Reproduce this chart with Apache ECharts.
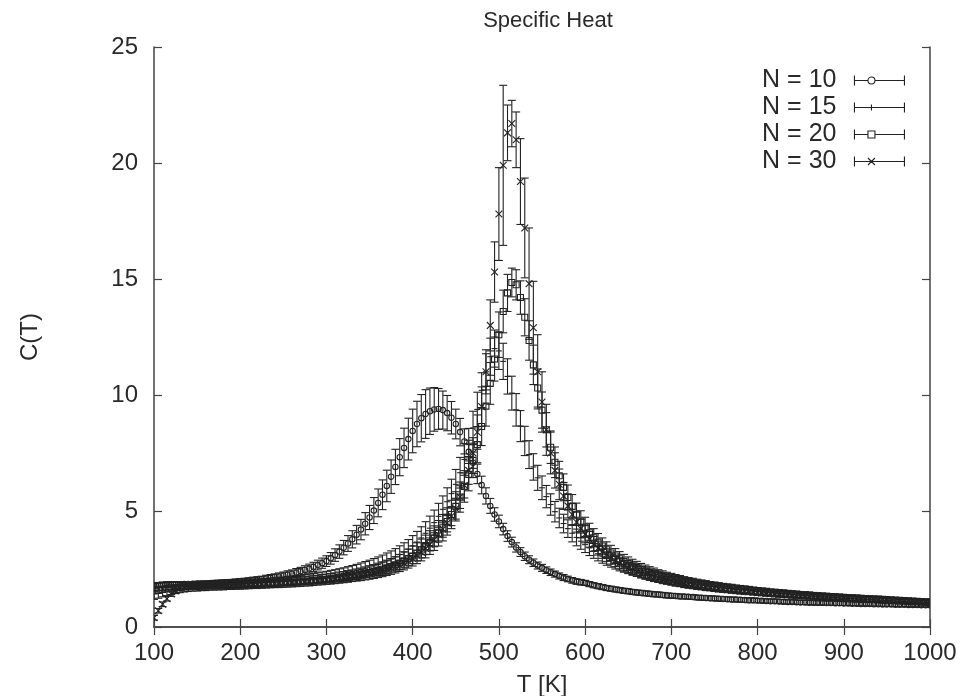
<!DOCTYPE html>
<html><head><meta charset="utf-8">
<script src="https://cdn.jsdelivr.net/npm/echarts@6/dist/echarts.min.js"></script>
<style>html,body{margin:0;padding:0;background:#fff}#c{width:973px;height:696px}</style>
</head><body><div id="c"></div>
<script>
// Temperature grid (K)
const temperatures = [
100,105,110,115,120,125,130,135,140,145,
150,155,160,165,170,175,180,185,190,195,
200,205,210,215,220,225,230,235,240,245,
250,255,260,265,270,275,280,285,290,295,
300,305,310,315,320,325,330,335,340,345,
350,355,360,365,370,375,380,385,390,395,
400,405,410,415,420,425,430,435,440,445,
450,455,460,465,470,475,480,485,490,495,
500,505,510,515,520,525,530,535,540,545,
550,555,560,565,570,575,580,585,590,595,
600,605,610,615,620,625,630,635,640,645,
650,655,660,665,670,675,680,685,690,695,
700,705,710,715,720,725,730,735,740,745,
750,755,760,765,770,775,780,785,790,795,
800,805,810,815,820,825,830,835,840,845,
850,855,860,865,870,875,880,885,890,895,
900,905,910,915,920,925,930,935,940,945,
950,955,960,965,970,975,980,985,990,995,
1000];

const c_N10 = [
1.78,1.80,1.80,1.82,1.82,1.83,1.84,1.85,1.85,1.86,
1.87,1.88,1.88,1.89,1.90,1.91,1.92,1.93,1.94,1.95,
1.97,1.98,2.00,2.02,2.04,2.06,2.09,2.12,2.15,2.18,
2.22,2.26,2.30,2.35,2.40,2.46,2.52,2.59,2.67,2.75,
2.84,2.96,3.10,3.25,3.42,3.60,3.78,3.98,4.20,4.45,
4.72,5.02,5.35,5.70,6.08,6.48,6.90,7.32,7.72,8.10,
8.45,8.75,9.00,9.18,9.30,9.38,9.40,9.35,9.22,9.02,
8.75,8.40,8.00,7.55,7.08,6.60,6.12,5.65,5.22,4.85,
4.55,4.22,3.92,3.66,3.43,3.23,3.05,2.90,2.77,2.65,
2.55,2.45,2.36,2.28,2.20,2.13,2.07,2.01,1.96,1.93,
1.90,1.85,1.80,1.76,1.72,1.68,1.65,1.62,1.59,1.56,
1.54,1.51,1.49,1.47,1.45,1.43,1.41,1.40,1.38,1.36,
1.35,1.34,1.32,1.31,1.30,1.29,1.27,1.26,1.25,1.24,
1.23,1.22,1.21,1.20,1.19,1.18,1.17,1.16,1.15,1.15,
1.14,1.13,1.12,1.11,1.11,1.10,1.09,1.08,1.08,1.07,
1.06,1.06,1.05,1.05,1.04,1.04,1.03,1.03,1.02,1.02,
1.01,1.01,1.00,1.00,0.99,0.99,0.99,0.98,0.98,0.97,
0.97,0.97,0.96,0.96,0.96,0.95,0.95,0.95,0.94,0.94,
0.94];
const err_N10 = [
0.10,0.10,0.10,0.10,0.10,0.10,0.10,0.10,0.10,0.10,
0.10,0.10,0.10,0.10,0.11,0.11,0.11,0.11,0.11,0.12,
0.12,0.12,0.12,0.13,0.13,0.13,0.14,0.14,0.14,0.15,
0.15,0.16,0.16,0.17,0.17,0.18,0.19,0.20,0.21,0.22,
0.23,0.25,0.27,0.29,0.31,0.34,0.37,0.40,0.44,0.48,
0.52,0.56,0.60,0.64,0.68,0.72,0.76,0.80,0.85,0.90,
0.94,0.98,1.02,1.05,1.00,0.94,0.88,0.82,0.76,0.70,
0.64,0.59,0.54,0.50,0.46,0.42,0.38,0.35,0.32,0.29,
0.27,0.25,0.23,0.21,0.20,0.19,0.18,0.17,0.16,0.15,
0.15,0.14,0.14,0.13,0.13,0.13,0.12,0.12,0.12,0.12,
0.11,0.11,0.11,0.11,0.11,0.11,0.11,0.11,0.11,0.11,
0.11,0.11,0.11,0.11,0.11,0.11,0.11,0.11,0.11,0.11,
0.10,0.10,0.10,0.10,0.10,0.10,0.10,0.10,0.10,0.10,
0.10,0.10,0.10,0.10,0.10,0.10,0.10,0.10,0.10,0.10,
0.09,0.09,0.09,0.09,0.09,0.09,0.09,0.09,0.09,0.09,
0.09,0.09,0.09,0.09,0.09,0.09,0.09,0.09,0.09,0.09,
0.08,0.08,0.08,0.08,0.08,0.08,0.08,0.08,0.08,0.08,
0.08,0.08,0.08,0.08,0.08,0.08,0.08,0.08,0.08,0.08,
0.08];

const c_N15 = [
1.72,1.74,1.75,1.76,1.77,1.78,1.78,1.79,1.80,1.80,
1.81,1.81,1.82,1.82,1.83,1.83,1.84,1.84,1.85,1.85,
1.86,1.87,1.88,1.89,1.90,1.91,1.92,1.93,1.94,1.96,
1.97,1.99,2.00,2.02,2.04,2.06,2.08,2.10,2.13,2.15,
2.18,2.21,2.24,2.27,2.31,2.35,2.39,2.43,2.48,2.53,
2.58,2.64,2.70,2.77,2.85,2.93,3.02,3.12,3.23,3.35,
3.50,3.66,3.84,4.04,4.26,4.50,4.77,5.07,5.40,5.75,
6.15,6.65,7.22,7.86,8.58,9.38,10.20,11.00,11.65,12.00,
11.90,11.45,10.80,10.08,9.36,8.66,8.02,7.43,6.90,6.43,
6.00,5.62,5.28,4.97,4.70,4.46,4.24,4.04,3.86,3.70,
3.55,3.41,3.28,3.16,3.05,2.95,2.86,2.77,2.69,2.62,
2.55,2.48,2.42,2.36,2.31,2.26,2.21,2.16,2.12,2.08,
2.04,2.00,1.97,1.93,1.90,1.87,1.84,1.81,1.79,1.76,
1.74,1.72,1.69,1.67,1.65,1.63,1.61,1.60,1.58,1.56,
1.54,1.52,1.50,1.48,1.47,1.45,1.43,1.42,1.40,1.39,
1.37,1.36,1.34,1.33,1.32,1.30,1.29,1.28,1.27,1.25,
1.24,1.23,1.22,1.21,1.20,1.19,1.18,1.17,1.16,1.15,
1.14,1.13,1.12,1.11,1.10,1.09,1.08,1.08,1.07,1.06,
1.05];
const err_N15 = [
0.18,0.17,0.17,0.16,0.16,0.16,0.15,0.15,0.15,0.15,
0.15,0.15,0.15,0.15,0.15,0.15,0.15,0.15,0.16,0.16,
0.16,0.16,0.16,0.17,0.17,0.17,0.17,0.18,0.18,0.18,
0.18,0.19,0.19,0.19,0.20,0.20,0.20,0.21,0.21,0.22,
0.22,0.23,0.23,0.24,0.24,0.25,0.26,0.27,0.28,0.29,
0.30,0.31,0.32,0.33,0.34,0.35,0.36,0.38,0.40,0.42,
0.44,0.46,0.48,0.50,0.52,0.54,0.56,0.58,0.60,0.62,
0.64,0.66,0.68,0.70,0.72,0.74,0.76,0.78,0.80,0.80,
0.80,0.78,0.76,0.73,0.70,0.67,0.63,0.60,0.57,0.54,
0.51,0.48,0.46,0.44,0.42,0.40,0.38,0.37,0.36,0.35,
0.34,0.33,0.32,0.31,0.30,0.29,0.28,0.27,0.27,0.26,
0.25,0.25,0.24,0.24,0.23,0.23,0.22,0.22,0.21,0.21,
0.20,0.20,0.20,0.19,0.19,0.19,0.18,0.18,0.18,0.17,
0.17,0.17,0.17,0.16,0.16,0.16,0.16,0.15,0.15,0.15,
0.15,0.15,0.14,0.14,0.14,0.14,0.14,0.13,0.13,0.13,
0.13,0.13,0.13,0.12,0.12,0.12,0.12,0.12,0.12,0.11,
0.11,0.11,0.11,0.11,0.11,0.11,0.11,0.11,0.11,0.11,
0.10,0.10,0.10,0.10,0.10,0.10,0.10,0.10,0.10,0.10,
0.10];

const c_N20 = [
1.55,1.58,1.62,1.65,1.68,1.70,1.72,1.73,1.74,1.75,
1.75,1.76,1.76,1.77,1.77,1.78,1.78,1.79,1.79,1.80,
1.80,1.81,1.82,1.83,1.84,1.85,1.86,1.87,1.88,1.89,
1.90,1.91,1.92,1.94,1.95,1.97,1.98,2.00,2.02,2.04,
2.06,2.08,2.10,2.13,2.15,2.18,2.21,2.24,2.27,2.31,
2.35,2.39,2.44,2.49,2.55,2.61,2.68,2.76,2.85,2.95,
3.06,3.18,3.32,3.47,3.64,3.83,4.04,4.28,4.55,4.85,
5.20,5.60,6.06,6.58,7.18,7.86,8.64,9.52,10.50,11.55,
12.60,13.60,14.40,14.85,14.75,14.20,13.35,12.35,11.30,10.30,
9.35,8.50,7.75,7.10,6.52,6.02,5.58,5.20,4.86,4.56,
4.30,4.06,3.85,3.66,3.49,3.33,3.19,3.06,2.94,2.83,
2.73,2.64,2.56,2.48,2.41,2.35,2.29,2.23,2.18,2.13,
2.08,2.04,2.00,1.96,1.92,1.89,1.86,1.83,1.80,1.77,
1.75,1.72,1.70,1.68,1.66,1.64,1.62,1.60,1.58,1.56,
1.54,1.52,1.51,1.49,1.48,1.46,1.45,1.43,1.42,1.41,
1.39,1.38,1.37,1.36,1.34,1.33,1.32,1.31,1.30,1.29,
1.28,1.27,1.26,1.25,1.24,1.23,1.22,1.21,1.20,1.19,
1.18,1.17,1.16,1.15,1.14,1.13,1.12,1.11,1.10,1.09,
1.08];
const err_N20 = [
0.36,0.34,0.32,0.30,0.28,0.26,0.24,0.22,0.21,0.20,
0.20,0.19,0.19,0.18,0.18,0.18,0.18,0.17,0.17,0.17,
0.17,0.17,0.17,0.17,0.18,0.18,0.18,0.18,0.18,0.19,
0.19,0.19,0.19,0.20,0.20,0.20,0.21,0.21,0.21,0.22,
0.22,0.23,0.23,0.24,0.24,0.25,0.25,0.26,0.27,0.28,
0.29,0.30,0.31,0.32,0.33,0.34,0.35,0.37,0.39,0.41,
0.43,0.45,0.47,0.49,0.51,0.53,0.55,0.57,0.59,0.61,
0.63,0.65,0.68,0.71,0.74,0.78,0.82,0.86,0.90,0.95,
0.98,0.92,0.80,0.62,0.65,0.72,0.80,0.85,0.85,0.82,
0.78,0.74,0.70,0.66,0.62,0.58,0.54,0.51,0.48,0.45,
0.43,0.41,0.39,0.37,0.35,0.34,0.33,0.32,0.31,0.30,
0.29,0.28,0.27,0.26,0.26,0.25,0.25,0.24,0.24,0.23,
0.23,0.22,0.22,0.21,0.21,0.21,0.20,0.20,0.20,0.19,
0.19,0.19,0.18,0.18,0.18,0.17,0.17,0.17,0.17,0.16,
0.16,0.16,0.16,0.15,0.15,0.15,0.15,0.15,0.14,0.14,
0.14,0.14,0.14,0.13,0.13,0.13,0.13,0.13,0.12,0.12,
0.12,0.12,0.12,0.12,0.12,0.12,0.12,0.12,0.12,0.12,
0.11,0.11,0.11,0.11,0.11,0.11,0.11,0.11,0.11,0.11,
0.11];

const c_N30 = [
0.40,0.70,0.98,1.22,1.42,1.56,1.66,1.73,1.77,1.79,
1.80,1.81,1.81,1.82,1.82,1.83,1.83,1.83,1.84,1.84,
1.84,1.85,1.85,1.86,1.86,1.87,1.87,1.88,1.88,1.89,
1.90,1.91,1.92,1.93,1.94,1.95,1.96,1.97,1.99,2.00,
2.02,2.04,2.06,2.08,2.10,2.13,2.16,2.19,2.22,2.26,
2.30,2.34,2.38,2.43,2.48,2.54,2.60,2.67,2.75,2.85,
2.95,3.08,3.22,3.38,3.56,3.76,3.98,4.22,4.48,4.78,
5.10,5.60,6.10,6.75,7.50,8.40,9.50,11.00,13.00,15.30,
17.80,19.90,21.30,21.70,21.00,19.20,17.20,14.80,12.90,11.00,
9.70,8.50,7.50,6.75,6.15,5.65,5.22,4.85,4.52,4.24,
4.00,3.78,3.58,3.40,3.24,3.10,2.97,2.85,2.74,2.64,
2.55,2.47,2.39,2.32,2.26,2.20,2.15,2.10,2.05,2.01,
1.97,1.93,1.90,1.86,1.83,1.80,1.77,1.75,1.72,1.70,
1.67,1.65,1.63,1.61,1.59,1.57,1.55,1.53,1.52,1.50,
1.48,1.47,1.45,1.44,1.42,1.41,1.40,1.38,1.37,1.36,
1.35,1.33,1.32,1.31,1.30,1.29,1.28,1.27,1.26,1.25,
1.24,1.23,1.22,1.21,1.20,1.19,1.18,1.17,1.16,1.15,
1.14,1.13,1.12,1.11,1.10,1.09,1.08,1.07,1.06,1.05,
1.04];
const err_N30 = [
0.10,0.10,0.10,0.10,0.10,0.10,0.10,0.10,0.10,0.10,
0.10,0.10,0.10,0.10,0.10,0.10,0.10,0.10,0.10,0.10,
0.10,0.10,0.10,0.10,0.10,0.10,0.10,0.10,0.10,0.10,
0.10,0.10,0.10,0.10,0.11,0.11,0.11,0.11,0.11,0.11,
0.12,0.12,0.12,0.12,0.13,0.13,0.13,0.14,0.14,0.14,
0.15,0.15,0.16,0.16,0.17,0.17,0.18,0.19,0.20,0.21,
0.22,0.23,0.24,0.26,0.28,0.30,0.32,0.35,0.38,0.41,
0.45,0.49,0.54,0.60,0.66,0.74,0.85,0.95,1.10,1.30,
2.00,3.45,1.20,1.00,1.20,1.85,2.15,2.40,2.00,1.60,
1.30,1.10,0.90,0.76,0.66,0.58,0.52,0.47,0.43,0.40,
0.37,0.34,0.32,0.30,0.28,0.27,0.26,0.25,0.24,0.23,
0.22,0.21,0.21,0.20,0.20,0.19,0.19,0.18,0.18,0.17,
0.17,0.17,0.16,0.16,0.16,0.15,0.15,0.15,0.15,0.14,
0.14,0.14,0.14,0.13,0.13,0.13,0.13,0.13,0.12,0.12,
0.12,0.12,0.12,0.12,0.12,0.12,0.12,0.12,0.12,0.12,
0.11,0.11,0.11,0.11,0.11,0.11,0.11,0.11,0.11,0.11,
0.11,0.11,0.11,0.11,0.11,0.11,0.11,0.11,0.11,0.11,
0.10,0.10,0.10,0.10,0.10,0.10,0.10,0.10,0.10,0.10,
0.10];

const seriesNames = ['N = 10', 'N = 15', 'N = 20', 'N = 30'];
const seriesMarkers = ['circle', 'plus', 'square', 'cross'];
const seriesValues = [c_N10, c_N15, c_N20, c_N30];
const seriesErrors = [err_N10, err_N15, err_N20, err_N30];
const xTickLabels = ['100','200','300','400','500','600','700','800','900','1000'];
const yTickLabels = ['0','5','10','15','20','25'];

const INK = '#222';
const FONT = '"Liberation Sans", Arial, Helvetica, sans-serif';

function makeRender(marker) {
  return function (params, api) {
    const T = api.value(0), c = api.value(1), e = api.value(2);
    const p = api.coord([T, c]);
    const hi = api.coord([T, c + e]);
    const lo = api.coord([T, c - e]);
    const cap = 4;
    const st = () => ({ stroke: INK, lineWidth: 1.1, fill: null });
    const ch = [
      { type: 'line', shape: { x1: p[0], y1: hi[1], x2: p[0], y2: lo[1] }, style: st() },
      { type: 'line', shape: { x1: p[0] - cap, y1: hi[1], x2: p[0] + cap, y2: hi[1] }, style: st() },
      { type: 'line', shape: { x1: p[0] - cap, y1: lo[1], x2: p[0] + cap, y2: lo[1] }, style: st() }
    ];
    const s = 3;
    if (marker === 'circle') {
      ch.push({ type: 'circle', shape: { cx: p[0], cy: p[1], r: 2.7 }, style: { stroke: INK, lineWidth: 1.1, fill: 'rgba(0,0,0,0)' } });
    } else if (marker === 'plus') {
      ch.push({ type: 'line', shape: { x1: p[0] - s, y1: p[1], x2: p[0] + s, y2: p[1] }, style: st() });
    } else if (marker === 'square') {
      ch.push({ type: 'rect', shape: { x: p[0] - s, y: p[1] - s, width: 2 * s, height: 2 * s }, style: { stroke: INK, lineWidth: 1.1, fill: 'rgba(0,0,0,0)' } });
    } else {
      ch.push({ type: 'line', shape: { x1: p[0] - 3.4, y1: p[1] - 3.4, x2: p[0] + 3.4, y2: p[1] + 3.4 }, style: st() });
      ch.push({ type: 'line', shape: { x1: p[0] - 3.4, y1: p[1] + 3.4, x2: p[0] + 3.4, y2: p[1] - 3.4 }, style: st() });
    }
    return { type: 'group', children: ch };
  };
}

const legendIcons = {
  circle: 'path://M0,0L0,10M0,5L13.5,5M20.5,5L50,5M50,0L50,10M20.5,5A3.5,3.5,0,1,1,13.5,5A3.5,3.5,0,1,1,20.5,5',
  plus: 'path://M0,0L0,10M0,5L50,5M50,0L50,10M17,2L17,8',
  square: 'path://M0,0L0,10M0,5L13.5,5M20.5,5L50,5M50,0L50,10M13.5,1.5L20.5,1.5L20.5,8.5L13.5,8.5Z',
  cross: 'path://M0,0L0,10M0,5L50,5M50,0L50,10M13.5,1.5L20.5,8.5M20.5,1.5L13.5,8.5'
};

const series = seriesNames.map((name, i) => ({
  name: name,
  type: 'custom',
  clip: true,
  renderItem: makeRender(seriesMarkers[i]),
  encode: { x: 0, y: 1 },
  itemStyle: { color: INK },
  data: temperatures.map((t, k) => [t, seriesValues[i][k], seriesErrors[i][k]]),
  animation: false
}));

const axisLine = { show: true, lineStyle: { color: '#444', width: 1.5 } };
const tick = { show: true, inside: true, length: 8, lineStyle: { color: '#444', width: 1.2 } };

const option = {
  backgroundColor: '#fff',
  animation: false,
  title: {
    text: 'Specific Heat', left: 543, top: 5, textAlign: 'center',
    textStyle: { fontFamily: FONT, fontSize: 22, fontWeight: 'normal', color: '#2a2a2a' }
  },
  grid: { left: 154, right: 43, top: 47, bottom: 69, containLabel: false, outerBoundsMode: 'none' },
  legend: {
    orient: 'vertical', right: 68, top: 67, padding: 0, itemGap: 0,
    align: 'right', itemWidth: 50, itemHeight: 10, selectedMode: false,
    textStyle: { fontFamily: FONT, fontSize: 25, color: '#2a2a2a', lineHeight: 27, padding: [0, 13, 0, 0] },
    data: seriesNames.map((n, i) => ({
      name: n, icon: legendIcons[seriesMarkers[i]],
      itemStyle: { color: 'rgba(0,0,0,0)', borderColor: INK, borderWidth: 1.1 }
    }))
  },
  xAxis: [
    {
      type: 'value', min: 100, max: 1000, interval: 100, position: 'bottom',
      name: 'T [K]', nameLocation: 'middle', nameGap: 46,
      nameTextStyle: { fontFamily: FONT, fontSize: 24, color: '#2a2a2a' },
      axisLine: axisLine, axisTick: tick, splitLine: { show: false },
      axisLabel: { fontFamily: FONT, fontSize: 24, color: '#2a2a2a', margin: 14,
        formatter: v => xTickLabels[Math.round((v - 100) / 100)] }
    },
    {
      type: 'value', min: 100, max: 1000, interval: 100, position: 'top',
      axisLine: axisLine, axisTick: tick, splitLine: { show: false }, axisLabel: { show: false }
    }
  ],
  yAxis: [
    {
      type: 'value', min: 0, max: 25, interval: 5, position: 'left',
      name: 'C(T)', nameLocation: 'middle', nameGap: 112, nameRotate: 90,
      nameTextStyle: { fontFamily: FONT, fontSize: 24, color: '#2a2a2a' },
      axisLine: axisLine, axisTick: tick, splitLine: { show: false },
      axisLabel: { fontFamily: FONT, fontSize: 24, color: '#2a2a2a', margin: 16,
        formatter: v => yTickLabels[Math.round(v / 5)] }
    },
    {
      type: 'value', min: 0, max: 25, interval: 5, position: 'right',
      axisLine: axisLine, axisTick: tick, splitLine: { show: false }, axisLabel: { show: false }
    }
  ],
  series: series
};

const chart = echarts.init(document.getElementById('c'), null, { renderer: 'canvas' });
chart.setOption(option);
</script>
</body></html>
